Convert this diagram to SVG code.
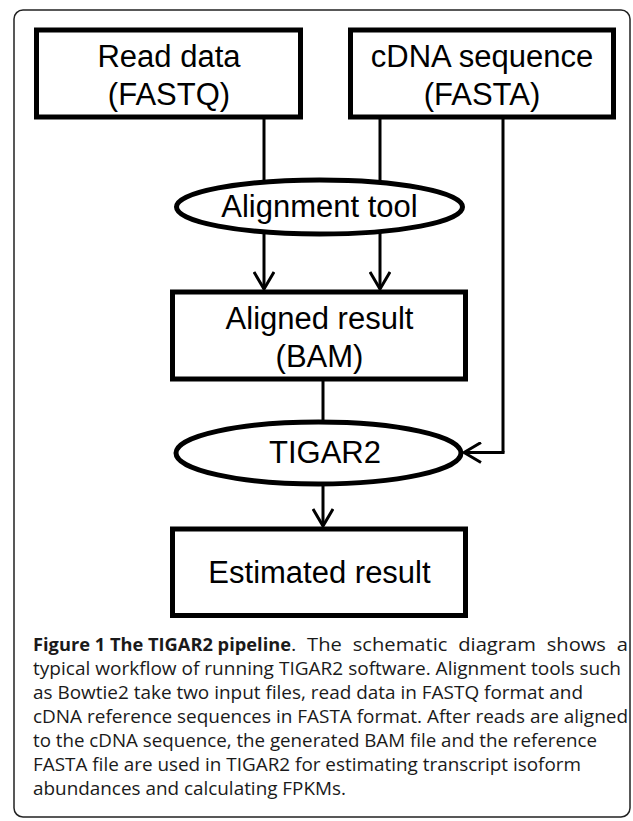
<svg xmlns="http://www.w3.org/2000/svg" width="633" height="821" viewBox="0 0 633 821">
<style>
.box{fill:#fff;stroke:#000;stroke-width:5}
.ell{fill:#fff;stroke:#000;stroke-width:5}
.conn{fill:none;stroke:#000;stroke-width:3}
.lbl{font-family:"Liberation Sans",Arial,sans-serif;font-size:31px;fill:#000;text-anchor:middle}
.cap{font-family:"Open Sans","Noto Sans",sans-serif;font-size:18px;fill:#1a1a1a}
.capb{font-weight:bold}
</style>
<defs>
<marker id="arr" viewBox="0 0 20 22" refX="18" refY="11" markerWidth="20" markerHeight="22" markerUnits="userSpaceOnUse" orient="auto">
<path d="M1,1 L18,11 L1,21" fill="none" stroke="#000" stroke-width="3"/>
</marker>
</defs>
<rect x="14" y="10" width="616" height="807" rx="9" fill="#fff" stroke="#222" stroke-width="1.5"/>
<g id="connectors">
<line class="conn" x1="264" y1="117" x2="264" y2="190"/>
<line class="conn" x1="380" y1="117" x2="380" y2="190"/>
<line class="conn" x1="503" y1="117" x2="503" y2="452.5"/>
<line class="conn" x1="264" y1="230" x2="264" y2="289" marker-end="url(#arr)"/>
<line class="conn" x1="380" y1="230" x2="380" y2="289" marker-end="url(#arr)"/>
<line class="conn" x1="323" y1="379" x2="323" y2="430"/>
<line class="conn" x1="504.5" y1="452.5" x2="464" y2="452.5" marker-end="url(#arr)"/>
<line class="conn" x1="323" y1="480" x2="323" y2="526" marker-end="url(#arr)"/>
</g>
<g id="read-data">
<rect class="box" x="36.5" y="30" width="264" height="87"/>
<text class="lbl" x="169" y="67">Read data</text>
<text class="lbl" x="169" y="105">(FASTQ)</text>
</g>
<g id="cdna-sequence">
<rect class="box" x="350.5" y="30" width="263" height="87"/>
<text class="lbl" x="482" y="67">cDNA sequence</text>
<text class="lbl" x="482" y="105">(FASTA)</text>
</g>
<g id="alignment-tool">
<ellipse class="ell" cx="319.5" cy="207" rx="143" ry="27"/>
<text class="lbl" x="319.5" y="217">Alignment tool</text>
</g>
<g id="aligned-result">
<rect class="box" x="172.5" y="292" width="293" height="87"/>
<text class="lbl" x="319.5" y="329">Aligned result</text>
<text class="lbl" x="319.5" y="367">(BAM)</text>
</g>
<g id="tigar2">
<ellipse class="ell" cx="318.5" cy="453" rx="142.5" ry="31"/>
<text class="lbl" x="325" y="463">TIGAR2</text>
</g>
<g id="estimated-result">
<rect class="box" x="172.5" y="529" width="293" height="86.5"/>
<text class="lbl" x="319.5" y="583">Estimated result</text>
</g>
<g id="caption">
<text class="cap" y="651"><tspan class="capb" x="33" textLength="258" lengthAdjust="spacingAndGlyphs">Figure 1 The TIGAR2 pipeline</tspan><tspan x="291" word-spacing="5" textLength="337" lengthAdjust="spacingAndGlyphs">. The schematic diagram shows a</tspan></text>
<text class="cap" x="33" y="675" textLength="588" lengthAdjust="spacingAndGlyphs">typical workflow of running TIGAR2 software. Alignment tools such</text>
<text class="cap" x="33" y="699" textLength="550" lengthAdjust="spacingAndGlyphs">as Bowtie2 take two input files, read data in FASTQ format and</text>
<text class="cap" x="33" y="723" textLength="595" lengthAdjust="spacingAndGlyphs">cDNA reference sequences in FASTA format. After reads are aligned</text>
<text class="cap" x="33" y="747" textLength="564" lengthAdjust="spacingAndGlyphs">to the cDNA sequence, the generated BAM file and the reference</text>
<text class="cap" x="33" y="771" textLength="548" lengthAdjust="spacingAndGlyphs">FASTA file are used in TIGAR2 for estimating transcript isoform</text>
<text class="cap" x="33" y="795" textLength="313" lengthAdjust="spacingAndGlyphs">abundances and calculating FPKMs.</text>
</g>
</svg>
